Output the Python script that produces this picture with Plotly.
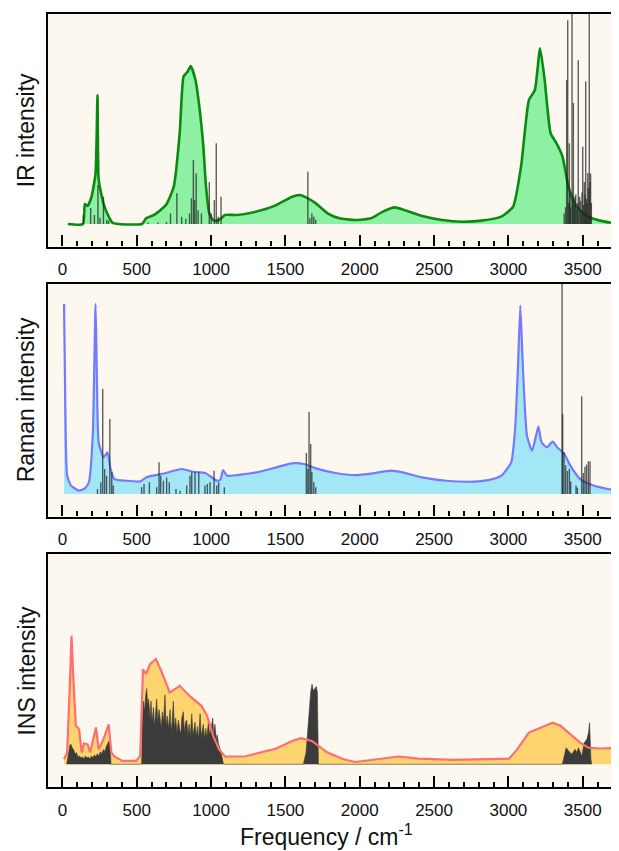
import plotly.graph_objects as go

# ---------------- data ----------------
ir_freq = [37, 138, 151, 170, 196, 223, 236, 244, 276, 311, 337, 377, 536, 563, 616, 696, 749, 789, 815, 842, 863, 895, 921, 948, 966, 988, 1014, 1041, 1067, 1094, 1174, 1306, 1439, 1545, 1598, 1651, 1705, 1784, 1864, 1970, 2076, 2156, 2235, 2315, 2421, 2554, 2687, 2820, 2952, 3032, 3085, 3138, 3178, 3213, 3244, 3284, 3324, 3364, 3404, 3457, 3537, 3616, 3690]
ir_int = [0.0, 0.0, 0.095, 0.086, 0.130, 0.241, 0.614, 0.210, 0.098, 0.035, 0.006, 0.0, 0.0, 0.027, 0.043, 0.090, 0.178, 0.432, 0.702, 0.725, 0.752, 0.686, 0.559, 0.368, 0.178, 0.051, 0.019, 0.016, 0.027, 0.043, 0.043, 0.059, 0.090, 0.130, 0.138, 0.122, 0.098, 0.051, 0.027, 0.019, 0.027, 0.059, 0.079, 0.063, 0.038, 0.019, 0.011, 0.016, 0.035, 0.083, 0.273, 0.590, 0.638, 0.837, 0.686, 0.432, 0.384, 0.321, 0.178, 0.083, 0.035, 0.016, 0.006]

ir_stick_freq = [141, 190, 215, 239, 253, 276, 298, 310, 576, 643, 700, 727, 770, 802, 830, 855, 868, 881, 889, 900, 913, 935, 988, 1001, 1022, 1035, 1048, 1067, 1651, 1665, 1678, 1691, 1704,
                 3375, 3385, 3392, 3399, 3405, 3410, 3415, 3419, 3428, 3432, 3437, 3443, 3448, 3453, 3460, 3465, 3470, 3479, 3485, 3490, 3495, 3500, 3505, 3511, 3515, 3520, 3525, 3528, 3534, 3538, 3544, 3548, 3553, 3558]
ir_stick_int = [0.043, 0.076, 0.043, 0.186, 0.03, 0.13, 0.02, 0.015, 0.007, 0.007, 0.01, 0.05, 0.146, 0.035, 0.025, 0.05, 0.122, 0.305, 0.114, 0.241, 0.066, 0.05, 0.2, 0.05, 0.114, 0.384, 0.035, 0.13, 0.249, 0.027, 0.05, 0.035, 0.02,
                0.05, 0.08, 0.686, 0.97, 0.1, 0.385, 0.15, 0.08, 1.2, 0.12, 0.576, 0.09, 0.13, 0.14, 0.07, 0.1, 0.78, 0.13, 0.11, 0.06, 0.15, 0.368, 0.09, 0.2, 0.14, 0.678, 0.12, 0.1, 0.243, 0.17, 1.2, 0.2, 0.24, 0.1]

raman_freq = [11, 19, 32, 58, 112, 151, 178, 204, 223, 231, 244, 276, 303, 324, 350, 430, 523, 563, 696, 802, 881, 961, 1041, 1062, 1081, 1107, 1174, 1306, 1439, 1545, 1625, 1705, 1837, 1970, 2103, 2209, 2289, 2421, 2581, 2767, 2873, 2952, 3019, 3045, 3064, 3080, 3098, 3125, 3159, 3186, 3202, 3223, 3258, 3298, 3329, 3377, 3417, 3483, 3563, 3669, 3744]
raman_int = [0.905, 0.437, 0.087, 0.040, 0.016, 0.027, 0.056, 0.278, 0.905, 0.595, 0.246, 0.175, 0.198, 0.119, 0.071, 0.063, 0.060, 0.079, 0.100, 0.119, 0.106, 0.100, 0.063, 0.068, 0.114, 0.087, 0.090, 0.103, 0.127, 0.146, 0.143, 0.122, 0.100, 0.090, 0.100, 0.111, 0.103, 0.079, 0.063, 0.059, 0.067, 0.087, 0.151, 0.310, 0.595, 0.897, 0.595, 0.278, 0.206, 0.278, 0.322, 0.246, 0.222, 0.249, 0.222, 0.190, 0.135, 0.071, 0.043, 0.024, 0.016]

raman_stick_freq = [236, 258, 271, 284, 297, 319, 332, 342, 533, 549, 585, 634, 650, 661, 679, 701, 719, 764, 791, 836, 858, 870, 892, 917, 959, 975, 993, 1020, 1038, 1051, 1089, 1641, 1651, 1659, 1670, 1678, 1691, 1704, 3361, 3365, 3374, 3385, 3397, 3410, 3419, 3455, 3464, 3493, 3504, 3515, 3526, 3538, 3549]
raman_stick_int = [0.024, 0.056, 0.5, 0.119, 0.087, 0.357, 0.103, 0.04, 0.032, 0.048, 0.056, 0.032, 0.151, 0.087, 0.063, 0.079, 0.056, 0.024, 0.016, 0.040, 0.087, 0.103, 0.103, 0.103, 0.040, 0.048, 0.056, 0.111, 0.040, 0.056, 0.032, 0.195, 0.119, 0.392, 0.238, 0.103, 0.056, 0.032, 1.2, 0.381, 0.2, 0.137, 0.11, 0.12, 0.06, 0.04, 0.03, 0.465, 0.1, 0.13, 0.14, 0.156, 0.156]

ins_freq = [11, 32, 53, 61, 74, 90, 112, 130, 146, 170, 186, 226, 244, 276, 311, 329, 350, 404, 496, 523, 542, 563, 589, 629, 669, 722, 789, 855, 935, 974, 1014, 1054, 1094, 1227, 1439, 1545, 1604, 1678, 1784, 1890, 1970, 2103, 2262, 2395, 2634, 3005, 3059, 3138, 3218, 3298, 3350, 3417, 3483, 3537, 3616, 3744]
ins_int = [0.024, 0.056, 0.437, 0.611, 0.405, 0.183, 0.167, 0.056, 0.100, 0.095, 0.056, 0.175, 0.071, 0.119, 0.190, 0.056, 0.037, 0.016, 0.016, 0.040, 0.452, 0.429, 0.476, 0.500, 0.437, 0.341, 0.373, 0.325, 0.278, 0.230, 0.135, 0.071, 0.037, 0.037, 0.075, 0.111, 0.124, 0.111, 0.056, 0.024, 0.011, 0.024, 0.037, 0.027, 0.021, 0.027, 0.071, 0.151, 0.175, 0.198, 0.183, 0.143, 0.103, 0.079, 0.075, 0.079]

ins_calc_freq = [29, 40, 50, 58, 65, 75, 85, 95, 105, 115, 125, 135, 145, 155, 165, 175, 185, 195, 205, 215, 225, 235, 245, 255, 265, 275, 285, 295, 305, 312, 320, 327,
                 533, 537, 545, 552, 560, 567, 574, 580, 589, 596, 603, 612, 620, 628, 634, 641, 650, 657, 665, 672, 680, 690, 697, 705, 714, 724, 731, 738, 746, 753, 762, 770, 780, 788, 796, 803, 813, 820, 828, 836, 844, 852, 860, 870, 878, 886, 892, 900, 908, 916, 926, 934, 940, 948, 956, 964, 972, 982, 990, 1000, 1011, 1018, 1026, 1035, 1042, 1049, 1058, 1066, 1075, 1083,
                 1621, 1639, 1654, 1670, 1679, 1688, 1699, 1708, 1715, 1722,
                 3363, 3370, 3388, 3404, 3426, 3449, 3460, 3471, 3494, 3510, 3528, 3539, 3546, 3555, 3560]
ins_calc_int = [0.0, 0.06, 0.09, 0.095, 0.08, 0.07, 0.05, 0.055, 0.035, 0.04, 0.03, 0.035, 0.025, 0.04, 0.03, 0.035, 0.025, 0.04, 0.03, 0.045, 0.035, 0.05, 0.04, 0.06, 0.05, 0.07, 0.06, 0.085, 0.1, 0.11, 0.09, 0.0,
                0.0, 0.2, 0.3, 0.25, 0.33, 0.36, 0.28, 0.31, 0.22, 0.3, 0.2, 0.27, 0.18, 0.25, 0.31, 0.2, 0.26, 0.22, 0.17, 0.25, 0.2, 0.33, 0.18, 0.23, 0.17, 0.26, 0.16, 0.2, 0.3, 0.17, 0.22, 0.15, 0.21, 0.17, 0.14, 0.22, 0.25, 0.15, 0.2, 0.21, 0.14, 0.19, 0.13, 0.24, 0.14, 0.17, 0.2, 0.13, 0.18, 0.12, 0.24, 0.13, 0.16, 0.19, 0.12, 0.17, 0.13, 0.2, 0.14, 0.17, 0.22, 0.14, 0.19, 0.12, 0.14, 0.1, 0.08, 0.06, 0.03, 0.0,
                0.0, 0.057, 0.214, 0.343, 0.381, 0.35, 0.36, 0.37, 0.343, 0.0,
                0.0, 0.024, 0.079, 0.064, 0.048, 0.071, 0.056, 0.079, 0.040, 0.103, 0.119, 0.151, 0.198, 0.024, 0.0]

x_ticks = [0, 500, 1000, 1500, 2000, 2500, 3000, 3500]
y_titles = ["IR intensity", "Raman intensity", "INS intensity"]
x_title = "Frequency / cm<sup>-1</sup>"

# ---------------- styling ----------------
BG = "#fdf8ef"
FONT = "Liberation Sans, Arial, Helvetica, sans-serif"
STICK = "rgba(35,35,35,0.72)"


def sticks(freqs, ints):
    xs, ys = [], []
    for f, v in zip(freqs, ints):
        xs += [f, f, None]
        ys += [0, v, None]
    return xs, ys


fig = go.Figure()

# IR panel
fig.add_trace(go.Scatter(x=ir_freq, y=ir_int, mode="lines", fill="tozeroy",
                         fillcolor="#8ef0a2", line=dict(color="#0b8a12", width=2.6, shape="spline", smoothing=0.5),
                         xaxis="x", yaxis="y", showlegend=False, hoverinfo="skip"))
sx, sy = sticks(ir_stick_freq, ir_stick_int)
fig.add_trace(go.Scatter(x=sx, y=sy, mode="lines", line=dict(color=STICK, width=1.4),
                         xaxis="x", yaxis="y", showlegend=False, hoverinfo="skip"))

# Raman panel
fig.add_trace(go.Scatter(x=raman_freq, y=raman_int, mode="lines", fill="tozeroy",
                         fillcolor="#a3e7f7", line=dict(color="#7479ff", width=2.2, shape="spline", smoothing=0.5),
                         xaxis="x2", yaxis="y2", showlegend=False, hoverinfo="skip"))
sx, sy = sticks(raman_stick_freq, raman_stick_int)
fig.add_trace(go.Scatter(x=sx, y=sy, mode="lines", line=dict(color=STICK, width=1.4),
                         xaxis="x2", yaxis="y2", showlegend=False, hoverinfo="skip"))

# INS panel
fig.add_trace(go.Scatter(x=ins_freq, y=ins_int, mode="lines", fill="tozeroy",
                         fillcolor="#fed46f", line=dict(color="rgba(0,0,0,0)", width=0),
                         xaxis="x3", yaxis="y3", showlegend=False, hoverinfo="skip"))
fig.add_trace(go.Scatter(x=ins_calc_freq, y=ins_calc_int, mode="lines", fill="tozeroy",
                         fillcolor="#3b3b3b", line=dict(color="#3b3b3b", width=0.6),
                         xaxis="x3", yaxis="y3", showlegend=False, hoverinfo="skip"))
fig.add_trace(go.Scatter(x=ins_freq, y=ins_int, mode="lines",
                         line=dict(color="#ff6f6f", width=2.2),
                         xaxis="x3", yaxis="y3", showlegend=False, hoverinfo="skip"))

domains = [[0.699, 1.0], [0.3497, 0.6507], [0.0, 0.3014]]
xr = [-97, 3744]
yr = [-0.108, 1.0]

# page has an 8px body margin: figure is sized so that it ends at the window edge
layout = dict(
    width=611, height=843,
    margin=dict(l=40, r=0, t=6, b=64),
    paper_bgcolor="white",
    plot_bgcolor=BG,
    font=dict(family=FONT, color="#111"),
    showlegend=False,
)
for i, dom in enumerate(domains):
    sfx = "" if i == 0 else str(i + 1)
    layout["xaxis" + sfx] = dict(
        domain=[0, 1], range=xr, anchor="y" + sfx,
        tickvals=x_ticks, ticks="inside", ticklen=11, tickwidth=2, tickcolor="black",
        minor=dict(dtick=100, tick0=0, ticks="inside", ticklen=5, tickwidth=1.5, tickcolor="black"),
        showline=True, linewidth=2.4, linecolor="black", mirror=True,
        showgrid=False, zeroline=False,
        tickfont=dict(size=17, family=FONT, color="#111"),
        ticklabelstandoff=6,
    )
    layout["yaxis" + sfx] = dict(
        domain=dom, range=yr, anchor="x" + sfx,
        showline=True, linewidth=2.2, linecolor="black", mirror=False,
        showticklabels=False, ticks="", showgrid=False, zeroline=False,
    )
fig.update_layout(**layout)

centers = [(d[0] + d[1]) / 2 for d in domains]
for t, c in zip(y_titles, centers):
    fig.add_annotation(text=t, xref="paper", yref="paper", x=-0.0385, y=c,
                       xanchor="center", yanchor="middle", textangle=-90, showarrow=False,
                       font=dict(size=23, family=FONT, color="#111"))
fig.add_annotation(text=x_title, xref="paper", yref="paper", x=0.4886, y=-0.062,
                   xanchor="center", yanchor="middle", showarrow=False,
                   font=dict(size=23, family=FONT, color="#111"))

fig.write_html("out.html")
